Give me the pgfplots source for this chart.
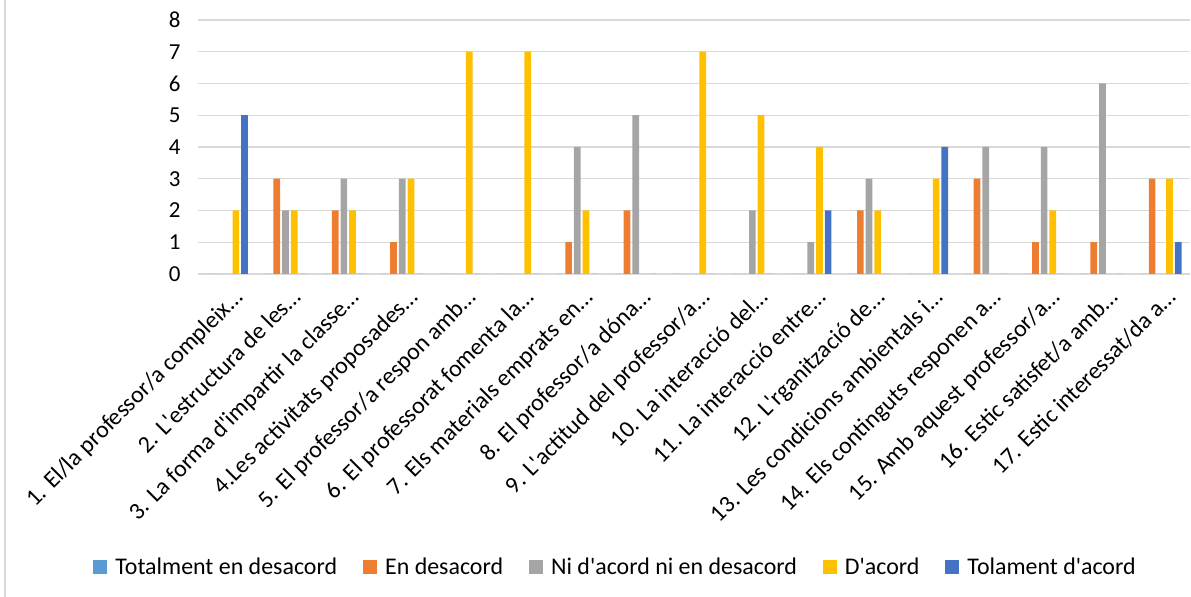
\documentclass[border=0pt]{standalone}
\usepackage{pgfplots}
\usepackage{pgfplotstable}
\pgfplotsset{compat=1.18}
\usepackage{fontspec}
\setmainfont{Carlito}[Ligatures=TeXOff]

\definecolor{gridc}{HTML}{D9D9D9}
\definecolor{c1}{HTML}{5B9BD5}
\definecolor{c2}{HTML}{ED7D31}
\definecolor{c3}{HTML}{A5A5A5}
\definecolor{c4}{HTML}{FFC000}
\definecolor{c5}{HTML}{4472C4}

% cat, totalment en desacord, en desacord, ni/ni, d'acord, tolament d'acord
\pgfplotstableread{
x tot des ni dac tol
0  0 0 0 2 5
1  0 3 2 2 0
2  0 2 3 2 0
3  0 1 3 3 0
4  0 0 0 7 0
5  0 0 0 7 0
6  0 1 4 2 0
7  0 2 5 0 0
8  0 0 0 7 0
9  0 0 2 5 0
10 0 0 1 4 2
11 0 2 3 2 0
12 0 0 0 3 4
13 0 3 4 0 0
14 0 1 4 2 0
15 0 1 6 0 0
16 0 3 0 3 1
}\answers

\begin{document}
\begin{tikzpicture}[x=1bp,y=1bp]
\path[use as bounding box] (0,0) rectangle (1191,597);
\draw[gridc, line width=1.5bp] (5,0) -- (5,597);
\begin{axis}[
  at={(198bp,323bp)}, anchor=south west,
  scale only axis, width=992bp, height=254bp,
  xmin=-0.5, xmax=16.5, ymin=0, ymax=8,
  ytick={0,1,...,8},
  xtick={0,1,...,16},
  xticklabels={
    1. El/la professor/a compleix…,
    2. L'estructura de les…,
    3. La forma d'impartir la classe…,
    4.Les activitats proposades…,
    5. El professor/a respon amb…,
    6. El professorat fomenta la…,
    7. Els materials emprats en…,
    8. El professor/a dóna…,
    9. L'actitud del professor/a…,
    10. La interacció del…,
    11. La interacció entre…,
    12. L'rganització de…,
    13. Les condicions ambientals i…,
    14. Els continguts responen a…,
    15. Amb aquest professor/a…,
    16. Estic satisfet/a amb…,
    17. Estic interessat/da a…},
  axis line style={draw=none},
  major tick style={draw=none},
  ymajorgrids,
  grid style={gridc, line width=1.4bp},
  /pgf/number format/assume math mode=true,
  yticklabel style={font=\fontsize{23}{23}\selectfont, xshift=-14bp},
  xticklabel style={font=\fontsize{24}{24}\selectfont, xshift=5bp, yshift=-6bp,
    rotate=45, anchor=north east, inner sep=2bp},
  ybar=2bp, bar width=6.7bp,
  legend columns=5,
  legend style={at={(0.4214,-1.1535)}, anchor=center, draw=none,
    font=\fontsize{24}{24}\selectfont,
    nodes={inner sep=3bp},
    /tikz/every even column/.append style={column sep=23bp}},
  legend image code/.code={\path[#1] (0bp,-7bp) rectangle (14bp,7bp);
    \path (19bp,0bp);},
]
\addplot[fill=c1, draw=none] table[x=x, y=tot] {\answers};
\addlegendentry{Totalment en desacord}
\addplot[fill=c2, draw=none] table[x=x, y=des] {\answers};
\addlegendentry{En desacord}
\addplot[fill=c3, draw=none] table[x=x, y=ni] {\answers};
\addlegendentry{Ni d'acord ni en desacord}
\addplot[fill=c4, draw=none] table[x=x, y=dac] {\answers};
\addlegendentry{D'acord}
\addplot[fill=c5, draw=none] table[x=x, y=tol] {\answers};
\addlegendentry{Tolament d'acord}
\end{axis}
\end{tikzpicture}
\end{document}
